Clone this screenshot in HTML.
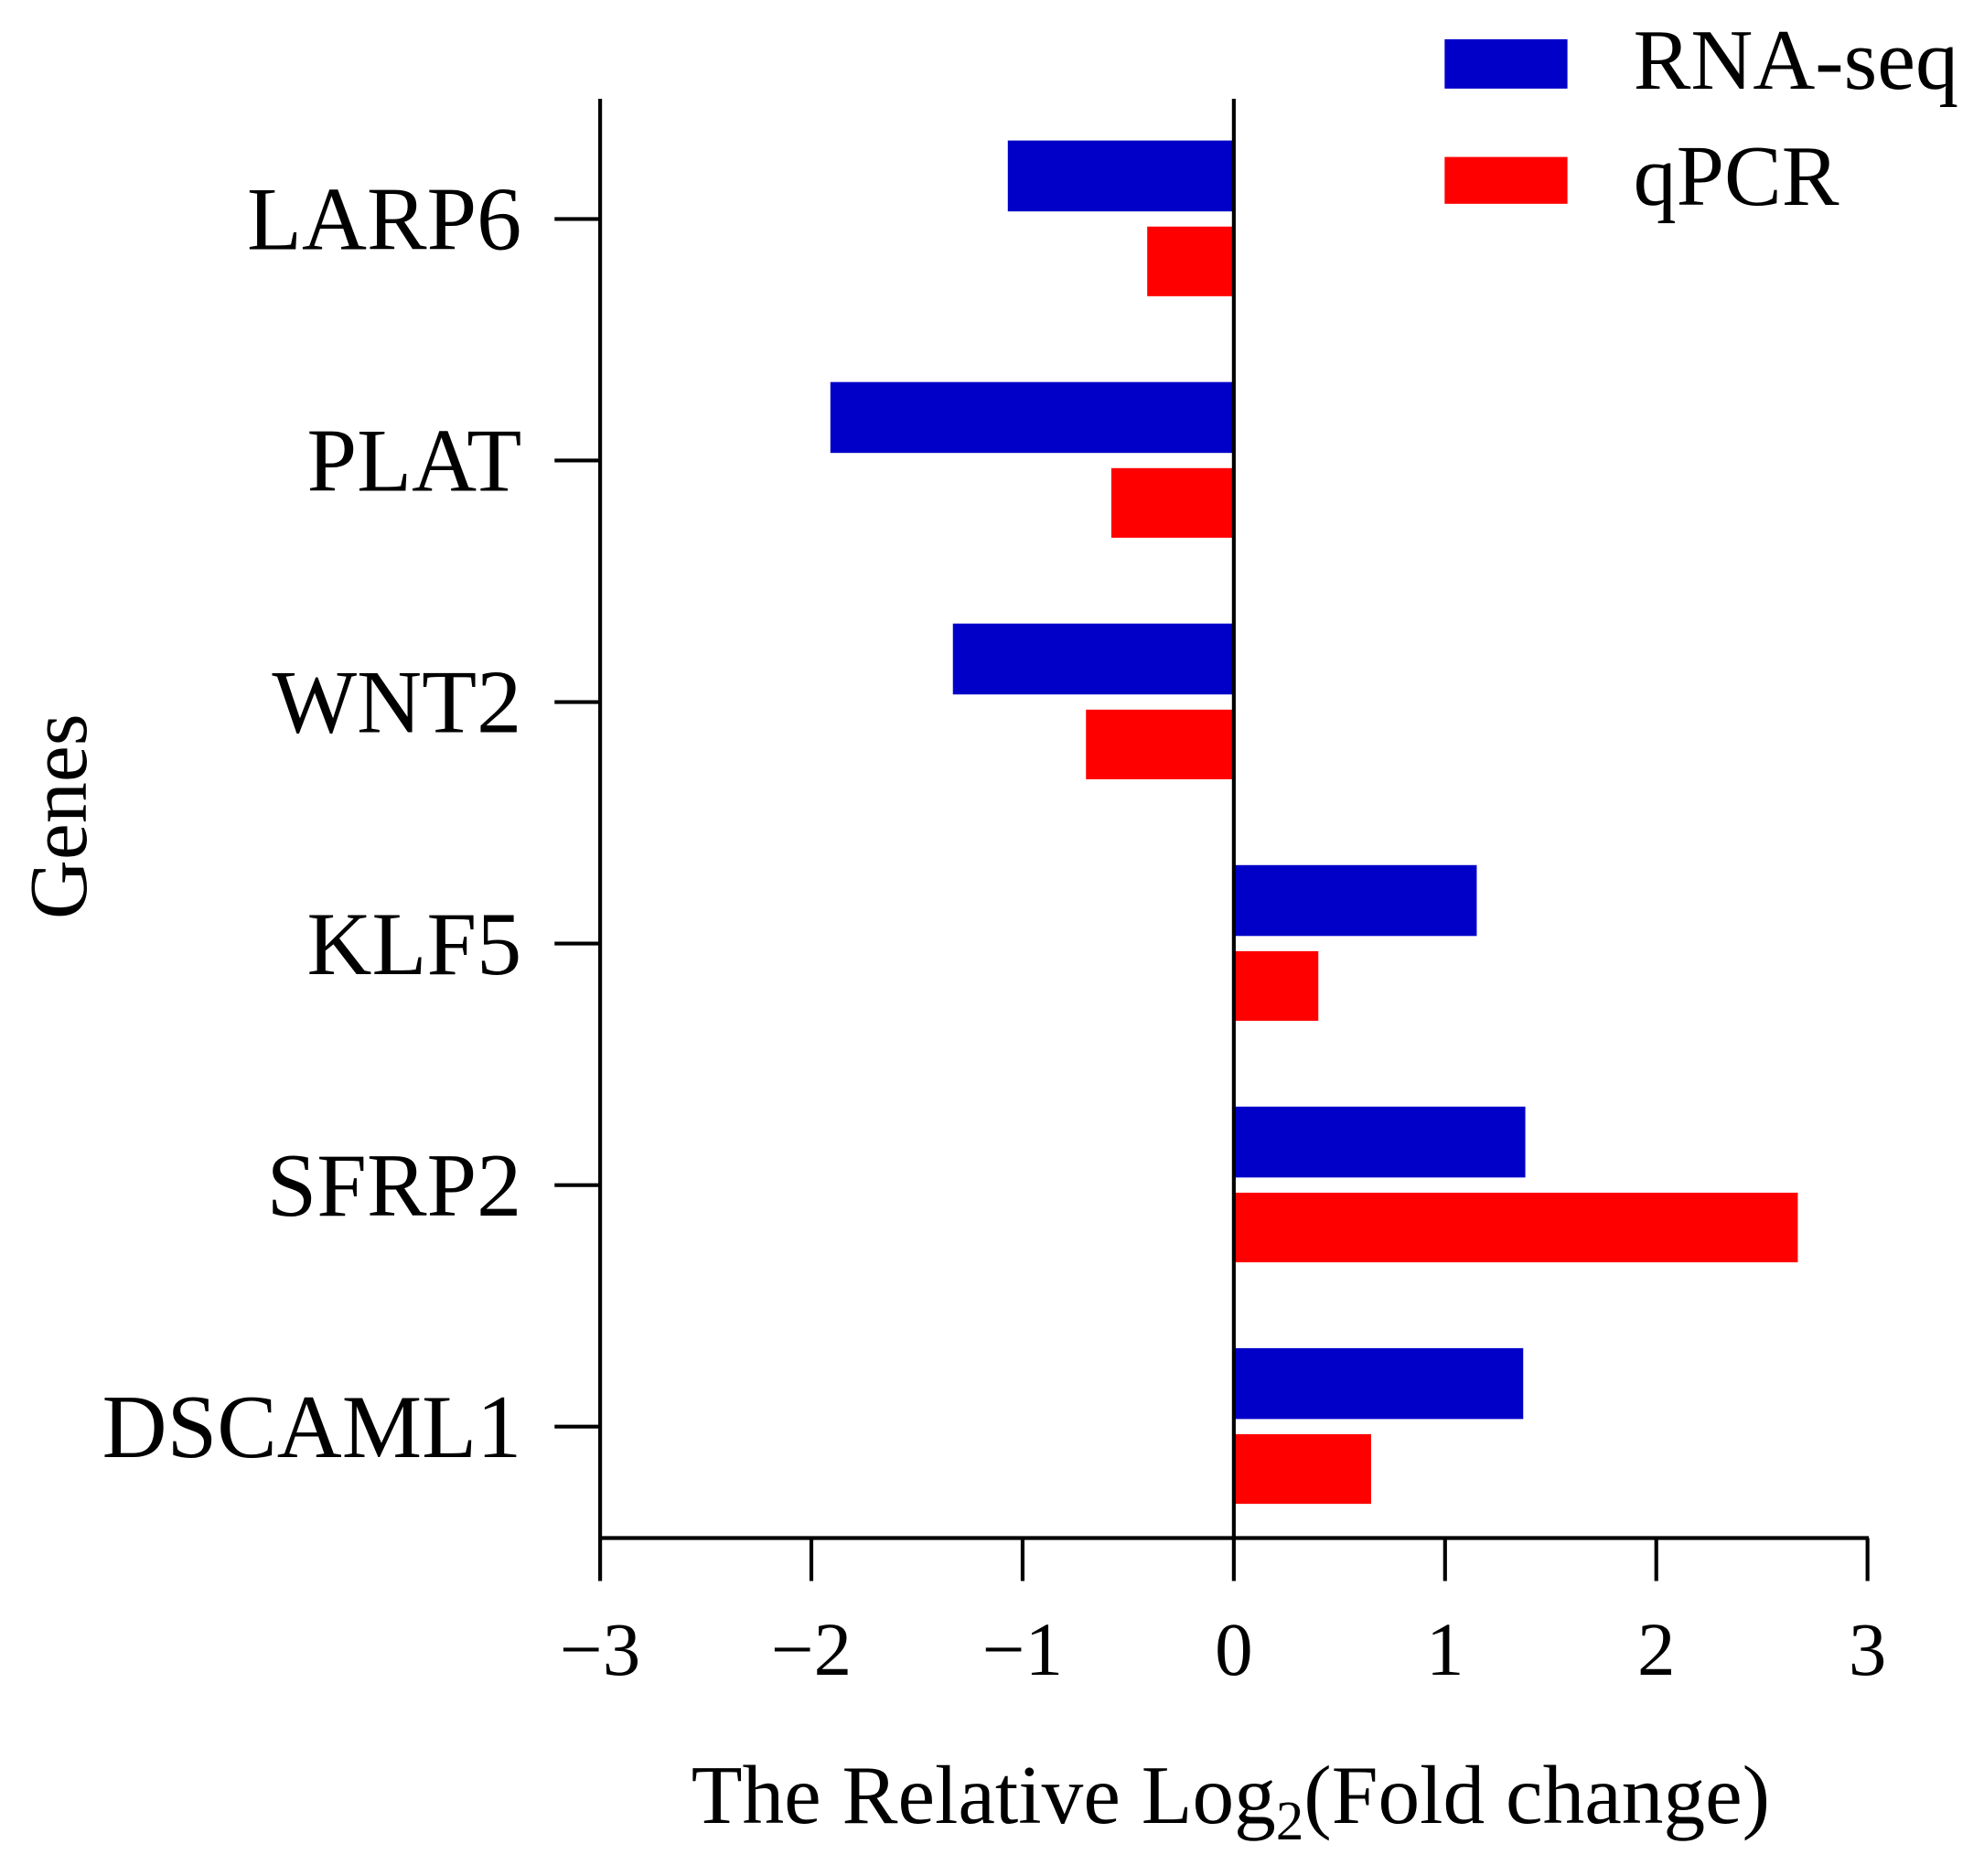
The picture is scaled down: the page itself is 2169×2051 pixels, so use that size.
<!DOCTYPE html>
<html><head><meta charset="utf-8"><style>html,body{margin:0;padding:0;background:#fff}svg{display:block}</style></head>
<body>
<svg width="2169" height="2051" viewBox="0 0 1567 1482" preserveAspectRatio="none" xmlns="http://www.w3.org/2000/svg" font-family="'Liberation Serif', serif">
<g id="plot"></g>
<g>
<rect x="1141" y="31" width="97" height="39" fill="#0000c8"/>
<text x="1290" y="70" font-size="68">RNA-seq</text>
<rect x="1141" y="124" width="97" height="37" fill="#ff0000"/>
<text x="1290" y="162" font-size="68">qPCR</text>
</g>
<text x="972" y="1440" font-size="66" text-anchor="middle">The Relative Log<tspan font-size="44" dy="13">2</tspan><tspan dy="-13">(Fold change)</tspan></text>
<text transform="translate(68,645) rotate(-90)" font-size="65" text-anchor="middle">Genes</text>
</svg>
<script>
const genes = ["LARP6","PLAT","WNT2","KLF5","SFRP2","DSCAML1"];
const rnaSeq = [-1.07,-1.91,-1.33,1.15,1.38,1.37];
const qpcr = [-0.41,-0.58,-0.70,0.40,2.67,0.65];
const xTicks = [-3,-2,-1,0,1,2,3];
const xTickLabels = ["\u22123","\u22122","\u22121","0","1","2","3"];
const NS="http://www.w3.org/2000/svg";
const g=document.getElementById('plot');
const x0=474,x1=1475,xmin=-3,xmax=3,yTop=78,yBot=1215,yFirst=173,yLast=1127;
const xs=v=>x0+(v-xmin)/(xmax-xmin)*(x1-x0);
const step=(yLast-yFirst)/(genes.length-1);
const ys=i=>yFirst+i*step;
function mk(tag,attrs){const e=document.createElementNS(NS,tag);for(const k in attrs)e.setAttribute(k,attrs[k]);g.appendChild(e);return e;}
genes.forEach((gname,i)=>{
  const y=ys(i);
  const b=mk('rect',{x:Math.min(xs(0),xs(rnaSeq[i])),y:y-62,width:Math.abs(xs(rnaSeq[i])-xs(0)),height:56,fill:'#0000c8'});
  
  
  const r=mk('rect',{x:Math.min(xs(0),xs(qpcr[i])),y:y+6,width:Math.abs(xs(qpcr[i])-xs(0)),height:55,fill:'#ff0000'});
  
  
  const t=mk('line',{x1:x0-36,x2:x0,y1:y,y2:y,stroke:'#000','stroke-width':3});
  
  
  const l=mk('text',{x:412,y:y+24,'font-size':71,'text-anchor':'end'});
  l.textContent=gname;
  
  
});
const ya=mk('line',{x1:x0,x2:x0,y1:yTop,y2:yBot,stroke:'#000','stroke-width':3});


const zl=mk('line',{x1:xs(0),x2:xs(0),y1:yTop,y2:yBot,stroke:'#000','stroke-width':3});


const xa=mk('line',{x1:x0-1,x2:x1+1,y1:yBot,y2:yBot,stroke:'#000','stroke-width':3});


xTicks.forEach((v,i)=>{
  const t=mk('line',{x1:xs(v),x2:xs(v),y1:yBot,y2:yBot+34,stroke:'#000','stroke-width':3});
  
  
  const l=mk('text',{x:xs(v),y:1323,'font-size':60,'text-anchor':'middle'});
  l.textContent=xTickLabels[i];
  
  
});
</script>
</body></html>
